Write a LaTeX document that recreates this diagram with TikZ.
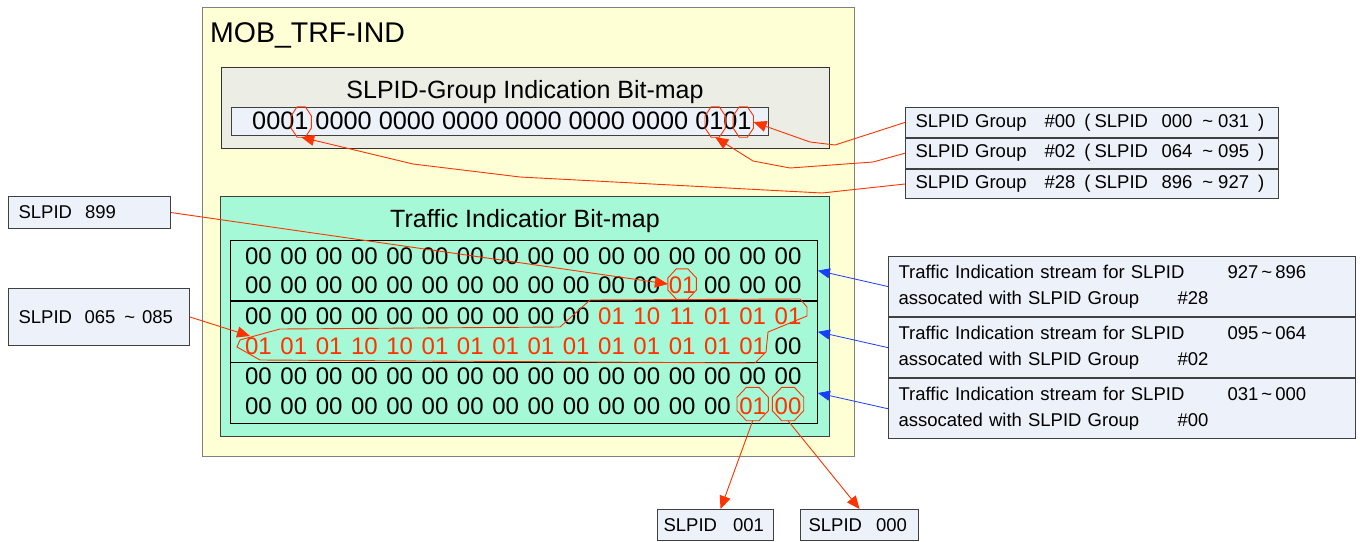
\documentclass[tikz,border=0pt]{standalone}
\usepackage{fontspec}
\setmainfont{Liberation Sans}
\usetikzlibrary{arrows.meta,calc,positioning}

\definecolor{mobyellow}{HTML}{FFFFD5}
\definecolor{grpgray}{HTML}{ECEEE5}
\definecolor{bitblue}{HTML}{EDF1F9}
\definecolor{tibmint}{HTML}{A6F9D6}
\definecolor{markred}{HTML}{FF3300}
\definecolor{tibblue}{HTML}{1A3CFF}
\definecolor{edgegray}{HTML}{404040}

\newcommand\setfs[1]{\fontsize{#1}{#1}\selectfont}
% one line of 16 bit pairs, #3..#4 are the red ones
\newcommand\bitline[5]{%
  \foreach \v [count=\i from 0] in {#5} {%
    \ifnum\i<#3\relax\def\bitcol{black}\else
      \ifnum\i>#4\relax\def\bitcol{black}\else\def\bitcol{markred}\fi\fi
    \node [bit, text=\bitcol] (#1-\i) at (258.5+35.3*\i, #2) {\v};
  }%
}
% red octagon round a marked node
\newcommand\ringout[1]{%
  \draw [ringline] ($(#1.north west)!.3!(#1.north east)$) -- ($(#1.north west)!.7!(#1.north east)$)
    -- ($(#1.north east)!.3!(#1.south east)$) -- ($(#1.north east)!.7!(#1.south east)$)
    -- ($(#1.south east)!.3!(#1.south west)$) -- ($(#1.south east)!.7!(#1.south west)$)
    -- ($(#1.south west)!.3!(#1.north west)$) -- ($(#1.south west)!.7!(#1.north west)$) -- cycle;}
\newcommand\grptext[3]{SLPID Group\hspace{18pt}\##1\hspace{9pt}(\hspace{4pt}SLPID\hspace{13.5pt}#2\hspace{10pt}\textasciitilde\hspace{5pt}#3\hspace{9pt})}
\newcommand\tibtext[3]{\makebox[329pt][l]{Traffic Indication stream for SLPID}#1\,\textasciitilde\,#2\\
  \makebox[279pt][l]{assocated with SLPID Group}\##3}

\tikzset{
  panel/.style={draw=edgegray, line width=1.1pt, inner sep=0pt, anchor=north west},
  infobox/.style={panel, fill=bitblue, align=left, inner xsep=#1, font=\setfs{18.5}},
  rowbox/.style={panel, draw=black, line width=0.9pt, minimum width=587pt, minimum height=60.3pt},
  bit/.style={inner sep=0pt, font=\setfs{24}},
  ringbox/.style={inner sep=0pt},
  ringline/.style={draw=markred, line width=0.9pt},
  redarrow/.style={draw=markred, line width=0.9pt, -{Triangle[length=13pt, width=11pt]}},
  bluearrow/.style={draw=tibblue, line width=0.8pt, -{Triangle[length=12pt, width=10pt]}},
}

\begin{document}
\begin{tikzpicture}[x=1pt, y=-1pt]
  \useasboundingbox (0,0) rectangle (1360,541);

  % main message frame
  \node [panel, draw=gray, fill=mobyellow, minimum width=652pt, minimum height=449pt](mob) at (202,7) {};
  \node [anchor=base west, inner sep=0pt, font=\setfs{28.5}](mobtitle) at (210,42) {MOB\_TRF-IND};

  % SLPID-Group bit-map
  \node [panel, draw=black!80, fill=grpgray, minimum width=608pt, minimum height=81pt](grppanel) at (221,67) {};
  \node [anchor=base, inner sep=0pt, font=\setfs{25}](grptitle) at (525,98) {SLPID-Group Indication Bit-map};
  \node [panel, fill=bitblue, minimum width=537pt, minimum height=28pt](bitbox) at (231,107) {};
  \node [anchor=west, inner sep=0pt, font=\setfs{25.3}](bitmap) at (252,121) {0001 0000 0000 0000 0000 0000 0000 0101};
  \node [ringbox, minimum width=20pt, minimum height=30pt](ringA) at (301.2,122) {};
  \node [ringbox, minimum width=20pt, minimum height=30pt](ringB) at (715.2,122) {};
  \node [ringbox, minimum width=20pt, minimum height=30pt](ringC) at (743.3,122) {};
  \ringout{ringA} \ringout{ringB} \ringout{ringC}

  % traffic indication bit-map
  \node [panel, fill=tibmint, minimum width=609pt, minimum height=240pt](tibpanel) at (220,196) {};
  \node [anchor=base, inner sep=0pt, font=\setfs{25}](tibtitle) at (525,227) {Traffic Indicatior Bit-map};
  \node [rowbox](row28) at (230,240) {};
  \node [rowbox, below=0pt of row28](row02) {};
  \node [rowbox, below=0pt of row02](row00) {};

  \bitline{r28a}{256}{99}{99}{00,00,00,00,00,00,00,00,00,00,00,00,00,00,00,00}
  \bitline{r28b}{285}{12}{12}{00,00,00,00,00,00,00,00,00,00,00,00,01,00,00,00}
  \bitline{r02a}{316}{10}{15}{00,00,00,00,00,00,00,00,00,00,01,10,11,01,01,01}
  \bitline{r02b}{346}{0}{14}{01,01,01,10,10,01,01,01,01,01,01,01,01,01,01,00}
  \bitline{r00a}{376}{99}{99}{00,00,00,00,00,00,00,00,00,00,00,00,00,00,00,00}
  \bitline{r00b}{406}{14}{15}{00,00,00,00,00,00,00,00,00,00,00,00,00,00,01,00}

  \node [ringbox, minimum width=28pt, minimum height=30pt](ring899) at ([yshift=1pt]r28b-12) {};
  \node [ringbox, minimum width=31pt, minimum height=33pt](ring001) at ([yshift=2pt]r00b-14) {};
  \node [ringbox, minimum width=31pt, minimum height=33pt](ring000) at ([yshift=2pt]r00b-15) {};
  \ringout{ring899} \ringout{ring001} \ringout{ring000}
  % outline round SLPID 065 ~ 085
  \draw [ringline] (590,300) -- (800,299) -- (807,307) -- (807,316) -- (768,332)
    -- (766,352) -- (755,363) -- (260,360) -- (237,347) -- (240,340) -- (280,329) -- (560,327) -- cycle;
  \coordinate (r02tip) at (250,336);

  % labels
  \node [infobox=10pt, text width=142pt, minimum height=32pt](slpid899) at (8,196) {SLPID\hspace{13pt}899};
  \node [infobox=10pt, text width=161pt, minimum height=57pt](slpid065) at (8,288) {SLPID\hspace{12.5pt}065\hspace{9pt}\textasciitilde\hspace{7pt}085};
  \node [infobox=6pt, text width=104pt, minimum height=31pt](slpid001) at (657,509) {SLPID\hspace{16pt}001};
  \node [infobox=8pt, text width=102pt, minimum height=31pt](slpid000) at (800,509) {SLPID\hspace{14pt}000};

  \node [infobox=10pt, text width=353pt, minimum height=29.7pt](grp00) at (905,107) {\grptext{00}{000}{031}};
  \node [infobox=10pt, text width=353pt, minimum height=29.7pt, below=0pt of grp00](grp02) {\grptext{02}{064}{095}};
  \node [infobox=10pt, text width=353pt, minimum height=29.7pt, below=0pt of grp02](grp28) {\grptext{28}{896}{927}};

  \node [infobox=10pt, text width=447pt, minimum height=60pt, font=\fontsize{18.5}{26.5}\selectfont](tib28) at (888,256) {\tibtext{927}{896}{28}};
  \node [infobox=10pt, text width=447pt, minimum height=60pt, font=\fontsize{18.5}{26.5}\selectfont, below=0pt of tib28](tib02) {\tibtext{095}{064}{02}};
  \node [infobox=10pt, text width=447pt, minimum height=60pt, font=\fontsize{18.5}{26.5}\selectfont, below=0pt of tib02](tib00) {\tibtext{031}{000}{00}};

  % connectors
  \draw [redarrow] (grp00.west) -- (835,145) -- (810,142) -- (ringC.east);
  \draw [redarrow] (grp02.west) -- (873,162) -- (790,168) -- (753,161) -- (ringB.south);
  \draw [redarrow] (grp28.west) -- (822,193) -- (520,177) -- (413,164) -- (ringA.south);
  \draw [redarrow] (slpid899.east) -- (ring899.west);
  \draw [redarrow] (slpid065.east) -- (r02tip);
  \draw [redarrow] (ring001.south) -- ([xshift=5pt]slpid001.north);
  \draw [redarrow] (ring000.south) -- (slpid000.north);

  \draw [bluearrow] (tib28.west) -- (row28.east);
  \draw [bluearrow] (tib02.west) -- (row02.east);
  \draw [bluearrow] (tib00.west) -- (row00.east);
\end{tikzpicture}
\end{document}
